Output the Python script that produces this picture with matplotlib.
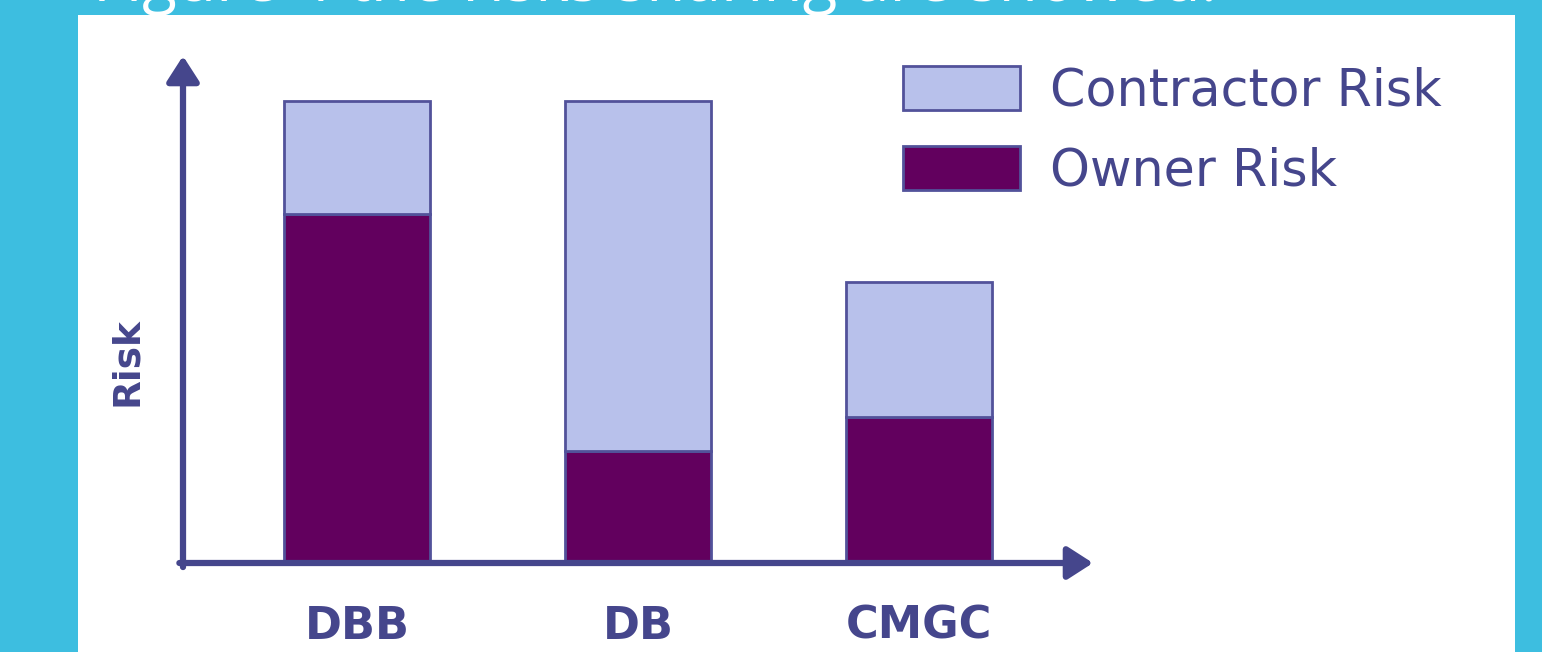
import matplotlib
matplotlib.use("Agg")
import matplotlib.pyplot as plt
from matplotlib.patches import Rectangle, Patch

# ---- data ----
categories = ["DBB", "DB", "CMGC"]
owner_risk = [7.55, 2.42, 3.16]
contractor_risk = [2.45, 7.58, 2.92]
series_labels = ["Contractor Risk", "Owner Risk"]
y_label = "Risk"
caption = "Figure 4 the risks sharing are showed."

# ---- style ----
W, H = 1542, 652
DPI = 100
bg_cyan = "#3dbee0"
axis_col = "#45468c"
light = "#b8c1eb"
dark = "#62005e"
edge = "#52529a"

fig = plt.figure(figsize=(W / DPI, H / DPI), dpi=DPI, facecolor=bg_cyan)

# white panel
fig.patches.append(Rectangle((78 / W, 0), (1515 - 78) / W, (652 - 15) / H,
                             transform=fig.transFigure, facecolor="white",
                             edgecolor="none", zorder=-5))

# caption (cut at top, as in the reference)
fig.text(93 / W, 1 - 1 / H, caption, color="white", fontsize=46,
         family="Open Sans", ha="left", va="baseline", zorder=-4)

# axes in pixel layout
x0, x1 = 183, 1093
yb, yt = 563, 56
ax = fig.add_axes([x0 / W, (H - yb) / H, (x1 - x0) / W, (yb - yt) / H])
ax.set_zorder(2)
ax.set_facecolor("none")
for s in ax.spines.values():
    s.set_visible(False)

px_per_unit_y = 46.2
ax.set_ylim(0, (yb - yt) / px_per_unit_y)
px_per_cat = 281
c0 = 357
ax.set_xlim((x0 - c0) / px_per_cat, (x1 - c0) / px_per_cat)

xs = list(range(len(categories)))
bw = 146 / px_per_cat
ax.bar(xs, owner_risk, width=bw, color=dark, edgecolor=edge, linewidth=2,
       zorder=2, label=series_labels[1])
ax.bar(xs, contractor_risk, bottom=owner_risk, width=bw, color=light,
       edgecolor=edge, linewidth=2, zorder=2, label=series_labels[0])

# axis arrows
arrow_kw = dict(arrowstyle="-|>,head_length=0.7,head_width=0.45", lw=4.5,
                color=axis_col, shrinkA=0, shrinkB=0, mutation_scale=22)
ax.annotate("", xy=(1, 0), xytext=(-0.004, 0), xycoords="axes fraction",
            textcoords="axes fraction", arrowprops=arrow_kw, zorder=3,
            annotation_clip=False)
ax.annotate("", xy=(0, 1), xytext=(0, -0.008), xycoords="axes fraction",
            textcoords="axes fraction", arrowprops=arrow_kw, zorder=3,
            annotation_clip=False)

ax.set_yticks([])
ax.set_xticks(xs)
ax.set_xticklabels(categories, fontsize=32, fontweight="bold",
                   color=axis_col, family="DejaVu Sans")
ax.tick_params(axis="x", length=0, pad=30)

ax.text((127 - x0) / (x1 - x0), (yb - 362) / (yb - yt), y_label,
        transform=ax.transAxes, rotation=90, ha="center", va="center",
        fontsize=27, fontweight="bold", color=axis_col, family="DejaVu Sans")

handles = [Patch(facecolor=light, edgecolor=edge, linewidth=2),
           Patch(facecolor=dark, edgecolor=edge, linewidth=2)]
leg = fig.legend(handles, series_labels, loc="upper left",
                 bbox_to_anchor=(903 / W, 1 - 66 / H), frameon=False,
                 borderpad=0, borderaxespad=0,
                 handlelength=2.3, handleheight=0.97, handletextpad=0.6,
                 labelspacing=0.58, prop={"family": "DejaVu Sans", "size": 36.5})
for t in leg.get_texts():
    t.set_color(axis_col)

fig.savefig("out.png", dpi=DPI, facecolor=bg_cyan)
